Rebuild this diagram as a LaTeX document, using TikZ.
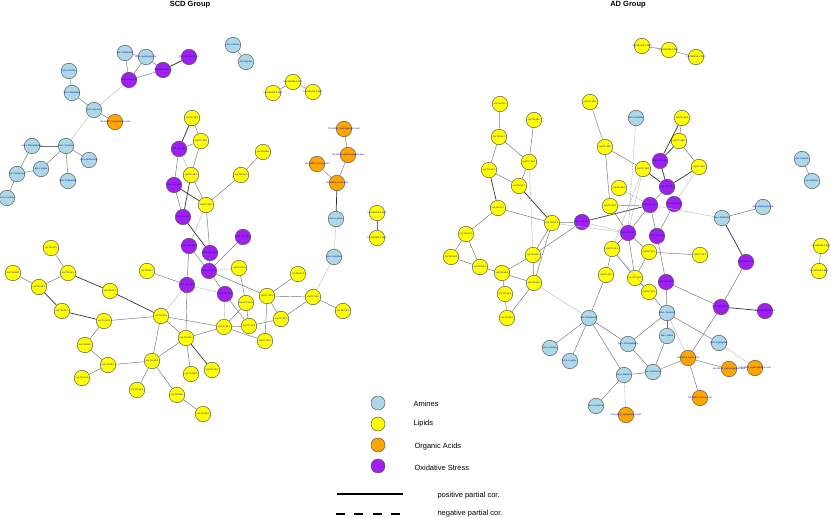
\documentclass[tikz,border=0pt]{standalone}
\usepackage{fontspec}
\setmainfont{Liberation Sans}
\definecolor{amcol}{HTML}{ADD8E6}
\definecolor{oxcol}{HTML}{A020F0}
\definecolor{oacol}{HTML}{FFA500}
\definecolor{lpcol}{HTML}{FFFF00}
\begin{document}
\begin{tikzpicture}[x=1pt,y=-1pt,
  mb/.style={circle,draw=black!70,line width=0.45pt,minimum size=15.5pt,inner sep=0pt,
    font=\fontsize{2.3}{2.6}\selectfont,text=blue!75!black,
    execute at begin node={\hbox to 0pt\bgroup\hss},
    execute at end node={\hss\egroup}},
  am/.style={mb,fill=amcol},
  lp/.style={mb,fill=lpcol},
  oa/.style={mb,fill=oacol},
  ox/.style={mb,fill=oxcol},
  st/.style={draw=black!80,line width=0.7pt},
  md/.style={draw=black!55,line width=0.45pt},
  lt/.style={draw=black!28,line width=0.4pt},
  ds/.style={draw=black!40,line width=0.4pt,dash pattern=on 1.5pt off 1pt},
  lgt/.style={font=\fontsize{7.5}{9}\selectfont,anchor=west},
  ttl/.style={font=\bfseries\fontsize{7.5}{9}\selectfont}]
\useasboundingbox (0,0) rectangle (831,518);
\node[ttl] (t1) at (190,5) {SCD Group};
\node[ttl] (t2) at (628,5) {AD Group};
% ---------- left ----------
\node[am] (A1) at (125,53) {Am.L.Glutamine};
\node[am] (A2) at (146,57) {Am.L.Hydroxyproline};
\node[am] (A3) at (69,71) {Am.L.Proline};
\node[am] (A4) at (72,93) {Am.L.Glutamate};
\node[am] (A5) at (94,110) {Am.L.Alanine};
\node[am] (A6) at (66,146) {Am.L.Tyrosine};
\node[am] (A7) at (32,146) {Am.L.Phenylalanine};
\node[am] (A8) at (89,160) {Am.L.Methionine};
\node[am] (A9) at (41,169) {Am.L.Valine};
\node[am] (A10) at (17,174) {Am.L.Isoleucine};
\node[am] (A11) at (68,181) {Am.L.Tryptophan};
\node[am] (A12) at (7,198) {Am.L.Leucine};
\node[am] (A13) at (233,45) {Am.L.Serine};
\node[am] (A14) at (246,62) {Am.Glycine};
\node[am] (A15) at (336,219) {Am.L.Lysine};
\node[am] (A16) at (334,257) {Am.L.Histidine};
\node[ox] (P1) at (189,57) {OxS.HpETE.15.S.I};
\node[ox] (P2) at (163,70) {OxS.HETE.12.S.I};
\node[ox] (P3) at (129,80) {OxS.HODE.13.I};
\node[ox] (P4) at (179,149) {OxS.LPA.18.2};
\node[ox] (P5) at (174,185) {OxS.LPA.16.0};
\node[ox] (P6) at (183,217) {OxS.LPA.18.1};
\node[ox] (P7) at (243,237) {OxS.LPC.20.4};
\node[ox] (P8) at (189,246) {OxS.LPE.18.1};
\node[ox] (P9) at (210,253) {OxS.LPE.18.2};
\node[ox] (P10) at (209,271) {OxS.LPC.18.2};
\node[ox] (P11) at (187,285) {OxS.LPC.18.1};
\node[ox] (P12) at (225,294) {OxS.LPC.16.0};
\node[oa] (O1) at (115,122) {OA.GM07\_Pyroglutamic.acid};
\node[oa] (O2) at (344,129) {OA.GM11\_Hydroxybutyric.acid};
\node[oa] (O3) at (348,155) {OA.GM10\_Hydroxyglutaric.acid};
\node[oa] (O4) at (317,164) {OA.GM01\_Pyruvic.acid};
\node[oa] (O5) at (337,183) {OA.GM03\_Lactic.acid};
\node[lp] (T1) at (293,82) {Lip.SM.d18.1.22.0};
\node[lp] (T2) at (273,93) {Lip.SM.d18.1.16.0};
\node[lp] (T3) at (313,92) {Lip.SM.d18.1.24.1};
\node[lp] (L1) at (192,118) {Lip.PC.38.3};
\node[lp] (L2) at (201,141) {Lip.PC.36.4};
\node[lp] (L3) at (191,175) {Lip.PC.38.4};
\node[lp] (L4) at (241,175) {Lip.TG.56.7};
\node[lp] (L5) at (263,152) {Lip.TG.58.8};
\node[lp] (L6) at (206,205) {Lip.PC.38.5};
\node[lp] (Q1) at (377,213) {Lip.SM.d18.1.23.0};
\node[lp] (Q2) at (377,238) {Lip.SM.d18.1.18.0};
\node[lp] (L7) at (51,248) {Lip.TG.50.0};
\node[lp] (L8) at (13,273) {Lip.TG.48.0};
\node[lp] (L9) at (68,273) {Lip.TG.50.1};
\node[lp] (L10) at (39,287) {Lip.TG.48.1};
\node[lp] (L11) at (62,311) {Lip.TG.50.2};
\node[lp] (L12) at (110,291) {Lip.TG.52.1};
\node[lp] (L13) at (147,271) {Lip.PE.38.4};
\node[lp] (L14) at (104,321) {Lip.TG.52.2};
\node[lp] (L15) at (161,316) {Lip.TG.52.3};
\node[lp] (L16) at (85,345) {Lip.TG.54.2};
\node[lp] (L17) at (108,365) {Lip.TG.54.3};
\node[lp] (L18) at (82,378) {Lip.TG.52.4};
\node[lp] (L19) at (152,361) {Lip.TG.54.4};
\node[lp] (L20) at (186,338) {Lip.TG.54.5};
\node[lp] (L21) at (137,390) {Lip.TG.56.4};
\node[lp] (L22) at (191,374) {Lip.TG.56.5};
\node[lp] (L23) at (212,370) {Lip.TG.56.6};
\node[lp] (L24) at (177,395) {Lip.TG.54.6};
\node[lp] (L25) at (203,414) {Lip.TG.48.2};
\node[lp] (L27) at (239,268) {Lip.PC.40.6};
\node[lp] (L28) at (298,274) {Lip.PE.36.4};
\node[lp] (L29) at (267,296) {Lip.PC.36.2};
\node[lp] (L30) at (246,303) {Lip.LPC.18.0};
\node[lp] (L31) at (313,297) {Lip.PC.34.2};
\node[lp] (L32) at (343,311) {Lip.PE.34.1};
\node[lp] (L33) at (281,319) {Lip.PC.34.1};
\node[lp] (L34) at (249,326) {Lip.PC.36.3};
\node[lp] (L35) at (224,327) {Lip.PC.36.1};
\node[lp] (L36) at (265,341) {Lip.PC.32.1};
% left edges
\draw[md] (A1)--(A2); \draw[md] (A1)--(P3); \draw[md] (A2)--(P3);
\draw[md] (A2)--(P2); \draw[md] (P3)--(P2); \draw[st] (P2)--(P1);
\draw[md] (A13)--(A14);
\draw[md] (A3)--(A4); \draw[md] (A4)--(A5); \draw[lt] (A5)--(P3);
\draw[md] (A5)--(O1); \draw[lt] (A5)--(A6);
\draw[md] (A6)--(A7); \draw[md] (A6)--(A8); \draw[md] (A6)--(A9);
\draw[md] (A6)--(A11); \draw[md] (A7)--(A10); \draw[md] (A9)--(A10);
\draw[md] (A10)--(A12);
\draw[md] (T1)--(T2); \draw[md] (T1)--(T3);
\draw[md] (L1)--(L2); \draw[st] (L1)--(P4); \draw[md] (P4)--(L2);
\draw[lt] (P4)--(L3); \draw[md] (L2)--(L3); \draw[md] (P4)--(P5);
\draw[st] (L3)--(P6); \draw[md] (L3)--(L6); \draw[md] (P5)--(P6);
\draw[st] (P5)--(L6);
\draw[md] (L6)--(L4); \draw[md] (L4)--(L5); \draw[md] (L6)--(P9);
\draw[lt] (L6)--(P8);
\draw[st] (P6)--(P9); \draw[md] (P8)--(P10); \draw[md] (P8)--(P11);
\draw[md] (P9)--(P10); \draw[md] (P7)--(P10); \draw[ds] (P10)--(L27);
\draw[md] (P10)--(P12); \draw[md] (P10)--(L29); \draw[ds] (P11)--(P12);
\draw[md] (P11)--(L20); \draw[lt] (P11)--(L15); \draw[md] (L13)--(P11);
\draw[lt] (P12)--(L35); \draw[md] (P12)--(L34);
\draw[md] (L27)--(L30); \draw[md] (L30)--(L35); \draw[md] (L30)--(L34);
\draw[md] (L29)--(L28); \draw[md] (L29)--(L31); \draw[md] (L29)--(L33);
\draw[md] (L29)--(L36); \draw[md] (L31)--(L33); \draw[md] (L31)--(L32);
\draw[lt] (L31)--(A16); \draw[md] (L34)--(L33); \draw[md] (L35)--(L34);
\draw[md] (L35)--(L36); \draw[md] (L15)--(L35); \draw[md] (L15)--(L20);
\draw[md] (L20)--(L35); \draw[md] (L20)--(L22); \draw[st] (L20)--(L23);
\draw[md] (L19)--(L20); \draw[md] (L24)--(L25); \draw[md] (L19)--(L24);
\draw[md] (L19)--(L21);
\draw[md] (L7)--(L9); \draw[md] (L8)--(L10); \draw[md] (L10)--(L9);
\draw[st] (L10)--(L11); \draw[st] (L9)--(L12); \draw[st] (L12)--(L15);
\draw[st] (L11)--(L14); \draw[md] (L14)--(L15); \draw[md] (L14)--(L16);
\draw[md] (L16)--(L17); \draw[md] (L17)--(L18); \draw[md] (L17)--(L19);
\draw[md] (L19)--(L15);
\draw[md] (O2)--(O3); \draw[md] (O3)--(O5); \draw[md] (O4)--(O5);
\draw[st] (O5)--(A15); \draw[lt] (A15)--(A16); \draw[md] (Q1)--(Q2);
% ---------- right ----------
\node[lp] (U1) at (642,46) {Lip.SM.d18.1.16.1};
\node[lp] (U2) at (669,50) {Lip.SM.d18.1.18.1};
\node[lp] (U3) at (696,57) {Lip.SM.d18.1.22.1};
\node[lp] (R1) at (500,104) {Lip.TG.50.0};
\node[lp] (R2) at (534,120) {Lip.TG.48.0};
\node[lp] (R3) at (499,137) {Lip.TG.50.1};
\node[lp] (R4) at (529,162) {Lip.PC.38.4};
\node[lp] (R5) at (489,170) {Lip.TG.48.1};
\node[lp] (R6) at (519,186) {Lip.TG.50.2};
\node[lp] (R7) at (498,208) {Lip.TG.52.1};
\node[lp] (R8) at (590,102) {Lip.PC.38.5};
\node[lp] (R9) at (605,147) {Lip.PC.36.4};
\node[lp] (R10) at (682,118) {Lip.PC.38.3};
\node[lp] (R11) at (679,141) {Lip.PC.38.6};
\node[lp] (R12) at (643,169) {Lip.PC.36.5};
\node[lp] (R13) at (699,167) {Lip.PC.40.6};
\node[lp] (R14) at (619,188) {Lip.PE.38.4};
\node[lp] (R15) at (610,206) {Lip.PC.34.2};
\node[lp] (R16) at (612,249) {Lip.PC.36.1};
\node[lp] (R17) at (649,252) {Lip.PC.36.2};
\node[lp] (R18) at (700,255) {Lip.PC.32.1};
\node[lp] (R19) at (606,275) {Lip.PC.34.1};
\node[lp] (R20) at (635,278) {Lip.LPC.18.0};
\node[lp] (R21) at (649,292) {Lip.PC.36.3};
\node[lp] (R22) at (821,246) {Lip.SM.d18.1.23.0};
\node[lp] (R23) at (819,271) {Lip.SM.d18.1.18.0};
\node[lp] (R24) at (552,223) {Lip.TG.52.3};
\node[lp] (R25) at (466,234) {Lip.TG.54.2};
\node[lp] (R26) at (451,257) {Lip.TG.52.4};
\node[lp] (R27) at (480,267) {Lip.TG.54.3};
\node[lp] (R28) at (533,255) {Lip.TG.54.5};
\node[lp] (R29) at (502,273) {Lip.TG.54.4};
\node[lp] (R30) at (534,283) {Lip.TG.56.5};
\node[lp] (R31) at (505,294) {Lip.TG.56.4};
\node[lp] (R32) at (507,318) {Lip.TG.48.2};
\node[ox] (RP1) at (660,161) {OxS.LPA.18.2};
\node[ox] (RP2) at (667,187) {OxS.LPE.18.2};
\node[ox] (RP3) at (674,204) {OxS.LPC.20.4};
\node[ox] (RP4) at (650,205) {OxS.LPC.18.2};
\node[ox] (RP5) at (582,222) {OxS.LPA.16.0};
\node[ox] (RP6) at (628,233) {OxS.LPC.18.1};
\node[ox] (RP7) at (657,236) {OxS.LPE.18.1};
\node[ox] (RP8) at (746,262) {OxS.HODE.13.I};
\node[ox] (RP9) at (666,282) {OxS.LPC.16.0};
\node[ox] (RP10) at (721,307) {OxS.HETE.12.S.I};
\node[ox] (RP11) at (765,311) {OxS.HpETE.15.S.I};
\node[am] (RA1) at (636,118) {Am.L.Histidine};
\node[am] (RA2) at (722,218) {Am.L.Glutamine};
\node[am] (RA3) at (763,207) {Am.L.Hydroxyproline};
\node[am] (RA4) at (802,159) {Am.L.Serine};
\node[am] (RA5) at (812,181) {Am.Glycine};
\node[am] (RA6) at (589,318) {Am.L.Glutamate};
\node[am] (RA7) at (667,313) {Am.L.Tyrosine};
\node[am] (RA8) at (667,336) {Am.L.Valine};
\node[am] (RA9) at (628,344) {Am.L.Phenylalanine};
\node[am] (RA10) at (719,343) {Am.L.Tryptophan};
\node[am] (RA11) at (550,348) {Am.L.Proline};
\node[am] (RA12) at (570,361) {Am.L.Lysine};
\node[am] (RA13) at (624,375) {Am.L.Alanine};
\node[am] (RA14) at (653,372) {Am.L.Isoleucine};
\node[am] (RA15) at (596,406) {Am.L.Leucine};
\node[oa] (RO1) at (688,358) {OA.GM03\_Lactic.acid};
\node[oa] (RO2) at (729,369) {OA.GM10\_Hydroxyglutaric.acid};
\node[oa] (RO3) at (755,368) {OA.GM11\_Hydroxybutyric.acid};
\node[oa] (RO4) at (700,398) {OA.GM01\_Pyruvic.acid};
\node[oa] (RO5) at (626,415) {OA.GM07\_Pyroglutamic.acid};
% right edges
\draw[md] (U1)--(U2); \draw[md] (U2)--(U3);
\draw[md] (R1)--(R3); \draw[md] (R3)--(R4); \draw[md] (R3)--(R5);
\draw[md] (R2)--(R4); \draw[md] (R4)--(R6); \draw[md] (R5)--(R6);
\draw[st] (R5)--(R7); \draw[st] (R6)--(R24); \draw[lt] (R4)--(R28);
\draw[md] (R8)--(R9); \draw[md] (R9)--(R12); \draw[md] (R9)--(R15);
\draw[st] (R12)--(RP2); \draw[st] (RP1)--(R11); \draw[md] (R11)--(R10);
\draw[st] (R10)--(RP1); \draw[md] (R11)--(R13); \draw[st] (R13)--(RP2);
\draw[lt] (R13)--(RP3); \draw[st] (RP1)--(RP2); \draw[ds] (R14)--(RP4);
\draw[md] (R15)--(RP4); \draw[md] (R15)--(RP6); \draw[lt] (R12)--(RP6);
\draw[lt] (R12)--(R16); \draw[ds] (RA1)--(RP6);
\draw[st] (RP5)--(RP4); \draw[lt] (RP5)--(RP6); \draw[md] (RP4)--(RP6);
\draw[md] (RP4)--(RP7); \draw[md] (RP3)--(RP7); \draw[md] (RP2)--(RP4);
\draw[md] (RP6)--(R16); \draw[md] (RP6)--(R17); \draw[md] (RP6)--(R20);
\draw[md] (RP7)--(RP9); \draw[lt] (RP4)--(RA2); \draw[md] (RA2)--(RA3);
\draw[st] (RA2)--(RP8); \draw[md] (RP8)--(RP10); \draw[st] (RP10)--(RP11);
\draw[md] (RP9)--(RP10); \draw[md] (RP10)--(RO1);
\draw[md] (R17)--(R18); \draw[md] (R16)--(R19); \draw[md] (R16)--(R20);
\draw[md] (R19)--(RA6); \draw[md] (RP9)--(RA7); \draw[md] (R20)--(R21);
\draw[md] (R21)--(RA7); \draw[md] (R17)--(R20); \draw[lt] (R16)--(R21);
\draw[md] (RA4)--(RA5); \draw[md] (R22)--(R23);
\draw[md] (R7)--(R24); \draw[md] (R24)--(RP5); \draw[lt] (R24)--(RP6);
\draw[md] (R25)--(R7); \draw[md] (R25)--(R26); \draw[md] (R25)--(R27);
\draw[md] (R26)--(R27); \draw[md] (R27)--(R29); \draw[md] (R29)--(R28);
\draw[md] (R29)--(R30); \draw[md] (R28)--(R24); \draw[md] (R30)--(R24);
\draw[md] (R28)--(RP5); \draw[md] (R29)--(R31); \draw[md] (R31)--(R32);
\draw[md] (R30)--(R32); \draw[lt] (R30)--(RA6); \draw[md] (R28)--(R30);
\draw[md] (RA6)--(RA11); \draw[md] (RA6)--(RA12); \draw[md] (RA6)--(RA9);
\draw[md] (RA6)--(RA13); \draw[md] (RA7)--(RA8); \draw[md] (RA7)--(RA9);
\draw[md] (RA7)--(RA10); \draw[lt] (RA7)--(RO1); \draw[md] (RA8)--(RA14);
\draw[md] (RA9)--(RA14); \draw[md] (RA13)--(RA14); \draw[md] (RA14)--(RO1);
\draw[md] (RO1)--(RO2); \draw[md] (RO1)--(RO4); \draw[lt] (RA10)--(RO3);
\draw[md] (RA13)--(RA15); \draw[ds] (RA13)--(RO5);
% ---------- legend ----------
\node[am,minimum size=14pt] (k1) at (378,403) {};
\node[lp,minimum size=14pt] (k2) at (378,424) {};
\node[oa,minimum size=14pt] (k3) at (378,445) {};
\node[ox,minimum size=14pt] (k4) at (378,466) {};
\node[lgt] (g1) at (410,404) {Amines};
\node[lgt] (g2) at (410,424) {Lipids};
\node[lgt] (g3) at (411,447) {Organic Acids};
\node[lgt] (g4) at (411,468) {Oxidative Stress};
\coordinate (s1) at (337,494); \coordinate (s2) at (403,494);
\coordinate (d1) at (336,514); \coordinate (d2) at (400,514);
\draw[black,line width=1.3pt] (s1)--(s2);
\draw[black,line width=1.3pt,dash pattern=on 9pt off 9.4pt] (d1)--(d2);
\node[lgt] (g5) at (434,496) {positive partial cor.};
\node[lgt] (g6) at (434,514) {negative partial cor.};
\end{tikzpicture}
\end{document}
